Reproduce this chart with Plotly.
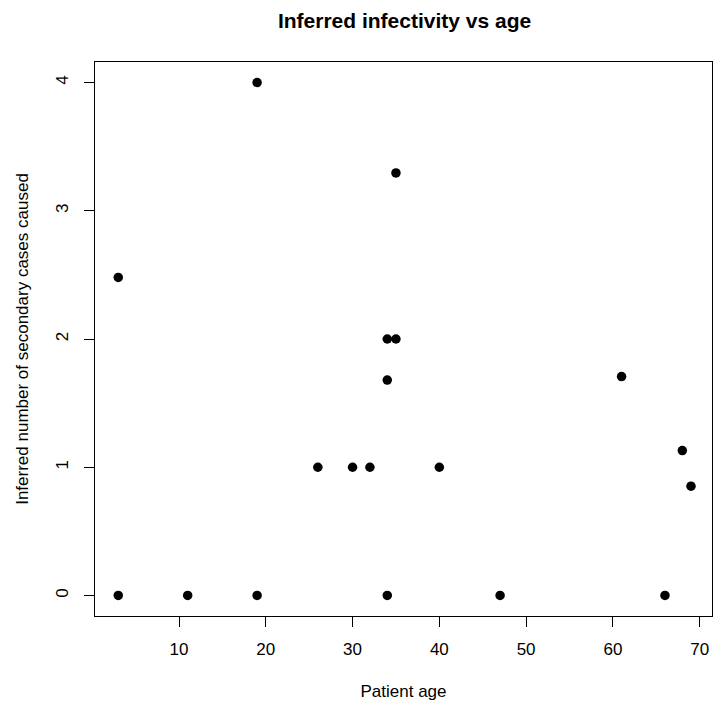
import plotly.graph_objects as go

age = [19, 3, 34, 35, 35, 34, 61, 68, 69, 26, 30, 32, 40, 3, 11, 19, 34, 47, 66]
secondary = [4.0, 2.48, 2.0, 2.0, 3.295, 1.68, 1.707, 1.13, 0.852, 1.0, 1.0, 1.0, 1.0, 0.0, 0.0, 0.0, 0.0, 0.0, 0.0]

x_ticks = [10, 20, 30, 40, 50, 60, 70]
y_ticks = [0, 1, 2, 3, 4]

font_family = "Liberation Sans, Arial, Helvetica, sans-serif"

fig = go.Figure(go.Scatter(
    x=age, y=secondary, mode="markers",
    marker=dict(color="black", size=9.5, line=dict(width=0)),
))

axis_common = dict(
    showgrid=False, zeroline=False,
    showline=True, linecolor="black", linewidth=1, mirror=True,
    ticks="outside", ticklen=10, tickwidth=1, tickcolor="black",
    tickfont=dict(family=font_family, size=17, color="black"),
)

fig.update_layout(
    width=713, height=704,
    paper_bgcolor="white", plot_bgcolor="white",
    margin=dict(l=95, r=1, t=62, b=88),
    showlegend=False,
    title=dict(text="<b>Inferred infectivity vs age</b>", x=0.5674, xanchor="center",
               y=1 - 21 / 704, yref="container", yanchor="middle",
               font=dict(family=font_family, size=21, color="black")),
    xaxis=dict(range=[0.32, 71.42], tickvals=x_ticks, ticktext=[str(v) for v in x_ticks],
               title=dict(text="Patient age", standoff=26,
                          font=dict(family=font_family, size=17, color="black")),
               ticklabelstandoff=8, automargin=False,
               **axis_common),
    yaxis=dict(range=[-0.16, 4.16], tickvals=y_ticks, ticktext=[str(v) for v in y_ticks],
               tickangle=-90,
               title=dict(text="Inferred number of secondary cases caused", standoff=20,
                          font=dict(family=font_family, size=17, color="black")),
               ticklabelstandoff=9, automargin=False,
               **axis_common),
)

fig.write_html("out.html", config={"displayModeBar": False},
               post_script="document.body.style.margin='0';document.body.style.overflow='hidden';")
